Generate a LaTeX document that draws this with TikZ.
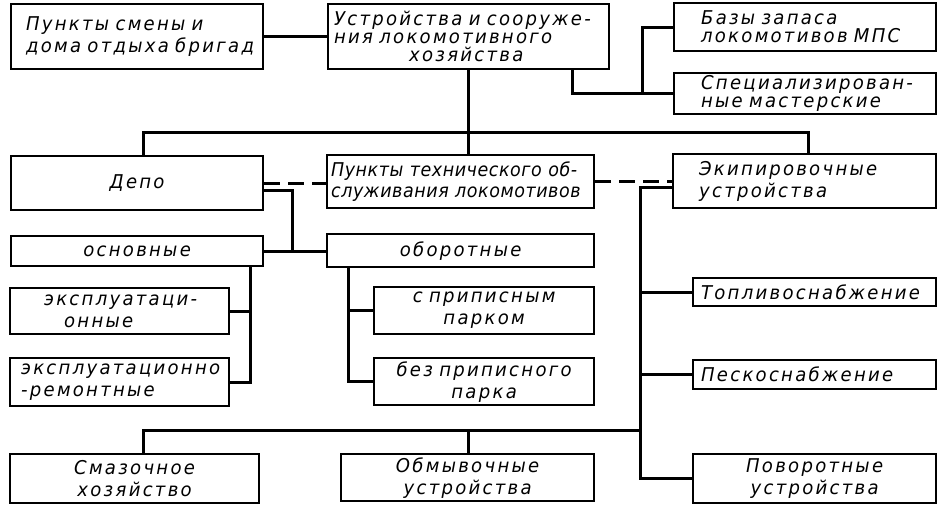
\documentclass[tikz,border=0pt]{standalone}
\usepackage{fontspec}
\setmainfont{DejaVu Sans}[FakeStretch=0.95,LetterSpace=12,WordSpace=3.3]
\newfontfamily\tightf{DejaVu Sans}[FakeStretch=0.92,LetterSpace=3,WordSpace=1.2]
\begin{document}
\begin{tikzpicture}[x=1pt,y=-1pt,
  box/.style={draw,line width=2.2pt,anchor=north west,inner ysep=0pt,
    font=\fontsize{19}{22}\selectfont\itshape},
  conn/.style={line width=3pt},
  dconn/.style={line width=3pt,dash pattern=on 16pt off 8pt}]
\useasboundingbox (0,0) rectangle (940,505);
% top row
\node[box,inner xsep=15pt,text width=222pt,minimum height=65pt,align=left] (b1) at (10,3) {\mbox{Пункты смены и}\\\mbox{дома отдыха бригад}};
\node[box,inner xsep=6pt,text width=269pt,minimum height=65pt,align=left,font=\fontsize{19}{18}\selectfont\itshape] (b2) at (327,3) {\mbox{Устройства и сооруже-}\\\mbox{ния локомотивного}\\\hspace*{75pt}\mbox{хозяйства}};
\node[box,inner xsep=27pt,text width=208pt,minimum height=48pt,align=left,font=\fontsize{19}{18}\selectfont\itshape] (b3) at (673,2) {\mbox{Базы запаса}\\\mbox{локомотивов МПС}};
\node[box,inner xsep=27pt,text width=208pt,minimum height=41pt,align=left,font=\fontsize{19}{18}\selectfont\itshape] (b4) at (673,72) {\mbox{Специализирован-}\\\mbox{ные мастерские}};
% second row
\node[box,inner xsep=0pt,text width=252pt,minimum height=54pt,align=center] (depo) at (10,155) {Депо};
\node[box,inner xsep=4pt,text width=259pt,minimum height=53pt,align=left,font=\tightf\fontsize{19}{21}\selectfont\itshape] (pto) at (326,154) {\mbox{Пункты технического об-}\\\mbox{служивания локомотивов}};
\node[box,inner xsep=26pt,text width=211pt,minimum height=54pt,align=left] (ekip) at (672,153) {\mbox{Экипировочные}\\\mbox{устройства}};
% depots
\node[box,inner xsep=0pt,text width=252pt,minimum height=30pt,align=center] (osn) at (10,235) {основные};
\node[box,inner xsep=0pt,text width=267pt,minimum height=33pt,align=center] (obor) at (326,233) {оборотные};
\node[box,inner xsep=34pt,text width=151pt,minimum height=46pt,align=left] (expl) at (9,287) {\mbox{эксплуатаци-}\\\hspace*{20pt}\mbox{онные}};
\node[box,inner xsep=11pt,text width=197pt,minimum height=48pt,align=left] (exrem) at (9,357) {\mbox{эксплуатационно}\\\mbox{-ремонтные}};
\node[box,inner xsep=0pt,text width=220pt,minimum height=47pt,align=center] (spr) at (373,286) {\mbox{с приписным}\\\mbox{парком}};
\node[box,inner xsep=0pt,text width=220pt,minimum height=47pt,align=center] (bez) at (373,357) {\mbox{без приписного}\\\mbox{парка}};
% equipment
\node[box,inner xsep=8pt,text width=227pt,minimum height=28pt,align=left] (topl) at (692,277) {\mbox{Топливоснабжение}};
\node[box,inner xsep=8pt,text width=227pt,minimum height=29pt,align=left] (pesk) at (692,359) {\mbox{Пескоснабжение}};
\node[box,inner xsep=0pt,text width=243pt,minimum height=49pt,align=center] (povor) at (692,453) {\mbox{Поворотные}\\\mbox{устройства}};
% bottom row
\node[box,inner xsep=0pt,text width=249pt,minimum height=49pt,align=center] (smaz) at (9,453) {\mbox{Смазочное}\\\mbox{хозяйство}};
\node[box,inner xsep=0pt,text width=253pt,minimum height=47pt,align=center] (obmyv) at (340,453) {\mbox{Обмывочные}\\\mbox{устройства}};
% coordinates
\coordinate (k572) at (572,0);
\coordinate (v642) at (642,0);
\coordinate (xd) at (143,133);
\coordinate (xe) at (808,133);
\coordinate (x292) at (292,191);
\coordinate (x250) at (250,0);
\coordinate (x348) at (348,0);
\coordinate (x640) at (640,188);
\coordinate (yb) at (143,430);
\coordinate (xo) at (468,430);
% connectors
\draw[conn] (b1.east) -- (b1.east -| b2.west);
\draw[conn] (b2.south -| k572) |- (b4.west);
\draw[conn] (b3.west) -| (v642 |- b4.west);
\draw[conn] (b2.south) -- (pto.north -| b2.south);
\draw[conn] (depo.north -| xd) -- (xd) -- (xe) -- (ekip.north -| xe);
\draw[dconn] (depo.east) -- (depo.east -| pto.west);
\draw[dconn] (pto.east) -- (pto.east -| ekip.west);
\draw[conn] (depo.east |- x292) -| (x292 |- osn.east);
\draw[conn] (osn.east) -- (osn.east -| obor.west);
\draw[conn] (osn.south -| x250) |- (exrem.east);
\draw[conn] (expl.east) -- (expl.east -| x250);
\draw[conn] (obor.south -| x348) |- (bez.west);
\draw[conn] (spr.west) -- (spr.west -| x348);
\draw[conn] (ekip.west |- x640) -| (x640 |- povor.west) -- (povor.west);
\draw[conn] (topl.west) -- (topl.west -| x640);
\draw[conn] (pesk.west) -- (pesk.west -| x640);
\draw[conn] (smaz.north -| yb) -- (yb) -- (yb -| x640);
\draw[conn] (obmyv.north -| xo) -- (xo);
\end{tikzpicture}
\end{document}
